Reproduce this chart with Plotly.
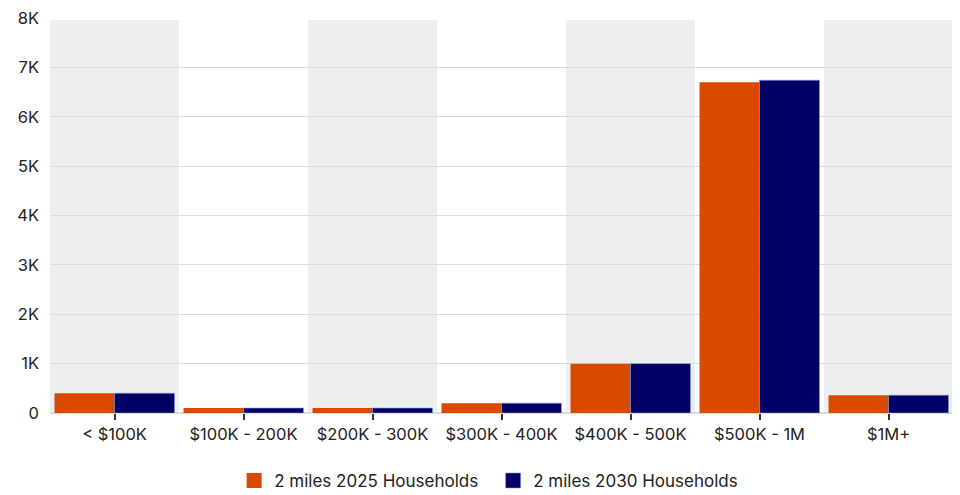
import plotly.graph_objects as go

categories = ["< $100K", "$100K - 200K", "$200K - 300K", "$300K - 400K",
              "$400K - 500K", "$500K - 1M", "$1M+"]
households_2025 = [400, 100, 100, 200, 1000, 6700, 360]
households_2030 = [400, 100, 100, 200, 1000, 6740, 360]
series_names = ["2 miles 2025 Households", "2 miles 2030 Households"]
y_tick_vals = [0, 1000, 2000, 3000, 4000, 5000, 6000, 7000, 8000]
y_tick_text = ["0", "1K", "2K", "3K", "4K", "5K", "6K", "7K", "8K"]

ORANGE = "#D94A00"
NAVY = "#000066"

fig = go.Figure()
fig.add_trace(go.Bar(x=categories, y=households_2025, name=series_names[0],
                     showlegend=False,
                     marker=dict(color=ORANGE, line=dict(width=0))))
fig.add_trace(go.Bar(x=categories, y=households_2030, name=series_names[1],
                     showlegend=False,
                     marker=dict(color=NAVY, line=dict(width=0.6, color="#7f9cc8"))))
# legend entries with larger square swatches
fig.add_trace(go.Scatter(x=[None], y=[None], mode="markers", name=series_names[0],
                         marker=dict(symbol="square", size=15, color=ORANGE,
                                     line=dict(width=0))))
fig.add_trace(go.Scatter(x=[None], y=[None], mode="markers", name=series_names[1],
                         marker=dict(symbol="square", size=15, color=NAVY,
                                     line=dict(width=0.6, color="#7f9cc8"))))

shapes = []
for i in range(len(categories)):
    if i % 2 == 0:
        shapes.append(dict(type="rect", xref="x", yref="y", x0=i - 0.5, x1=i + 0.5,
                           y0=0, y1=7960, fillcolor="#EDEEEE", line=dict(width=0),
                           layer="below"))

fig.update_layout(
    width=952, height=487,
    margin=dict(l=42, r=7, t=10, b=82, autoexpand=False),
    paper_bgcolor="white", plot_bgcolor="white",
    barmode="group", bargap=0.07, bargroupgap=0,
    font=dict(family="Inter, Roboto, sans-serif", size=16.5, color="#222222"),
    shapes=shapes,
    showlegend=True,
    legend=dict(orientation="h", xref="container", x=0.5096, xanchor="center",
                y=-0.172, yanchor="middle", entrywidth=214,
                font=dict(size=17, color="#222222"), itemsizing="trace",
                traceorder="normal"),
    xaxis=dict(type="category", range=[-0.5, len(categories) - 0.5], showgrid=False,
               automargin=False,
               ticks="outside", ticklen=6, tickwidth=1.5, tickcolor="#333333",
               showline=False, tickfont=dict(size=16.5)),
    yaxis=dict(range=[0, 8000], tickvals=y_tick_vals, ticktext=y_tick_text,
               automargin=False, ticklabeloverflow="allow",
               showgrid=True, gridcolor="#DCDCDC", gridwidth=1, zeroline=True,
               zerolinecolor="#DCDCDC", ticks="", tickfont=dict(size=16.5),
               ticklabelstandoff=10),
)

fig.write_html("out.html")
